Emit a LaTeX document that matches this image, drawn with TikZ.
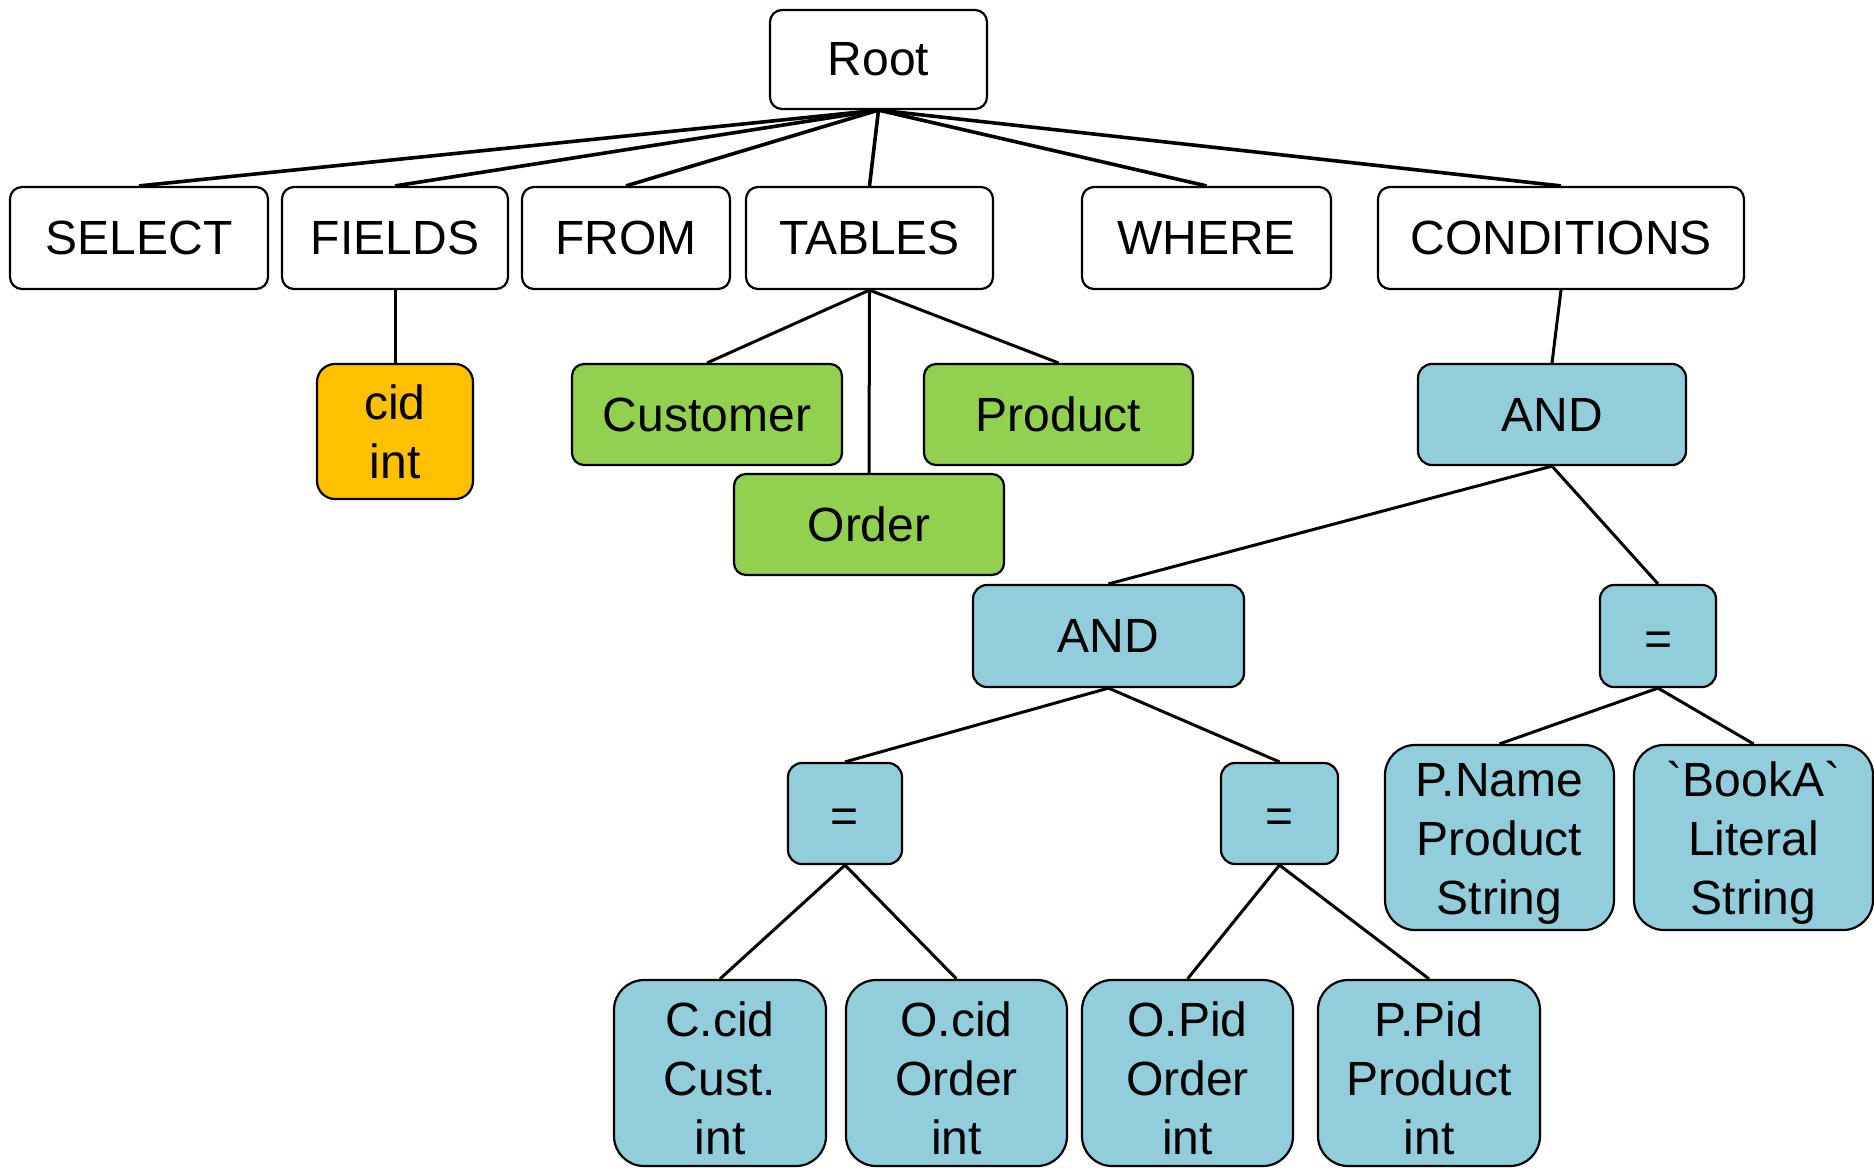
\documentclass[tikz,border=0pt]{standalone}
\usepackage{fontspec}
\newfontfamily\treefont{Liberation Sans}
\definecolor{fieldorange}{RGB}{255,192,0}
\definecolor{tablegreen}{RGB}{146,208,80}
\definecolor{condblue}{RGB}{146,205,220}
% taller first line, so that three-line labels sit a little lower in their boxes
\newcommand\firststrut{\rule{0pt}{22.5pt}}
% equals sign placed just below the middle of its box
\newcommand\eqsign{\raisebox{-9.5pt}[0pt][0pt]{=}}
\begin{document}
\begin{tikzpicture}[x=0.5pt,y=-0.5pt,
  box/.style={draw=black, line width=1.1pt, rounded corners=6pt, align=center,
    inner sep=0pt, font=\treefont\fontsize{24}{29.5}\selectfont},
  kw/.style={box, fill=white},
  fld/.style={box, fill=fieldorange, rounded corners=9pt},
  tbl/.style={box, fill=tablegreen},
  cnd/.style={box, fill=condblue, rounded corners=7pt},
  leaf/.style={box, fill=condblue, rounded corners=15pt},
  sz/.style 2 args={minimum width=#1, minimum height=#2},
  edge/.style={draw=black, line width=1.5pt},
  rootedge/.style={draw=black, line width=1.8pt}]
\useasboundingbox (0,0) rectangle (1874,1168);

% query keywords
\node[kw, sz={108.5pt}{49.5pt}] (root) at (878.5,59.5) {Root};
\node[kw, sz={129pt}{51pt}] (select) at (139,238) {SELECT};
\node[kw, sz={113pt}{51pt}] (fields) at (395,238) {FIELDS};
\node[kw, sz={104pt}{51pt}] (from) at (626,238) {FROM};
\node[kw, sz={123.5pt}{51pt}] (tables) at (869.5,238) {TABLES};
\node[kw, sz={124.5pt}{51pt}] (where) at (1206.5,238) {WHERE};
\node[kw, sz={183pt}{51pt}] (conds) at (1561,238) {CONDITIONS};

% field and tables
\node[fld, sz={78pt}{67.5pt}] (cid) at (395,431.5) {cid\\int};
\node[tbl, sz={135pt}{50.5pt}] (customer) at (707,414.5) {Customer};
\node[tbl, sz={134.5pt}{50.5pt}] (product) at (1058.5,414.5) {Product};
\node[tbl, sz={135pt}{50.5pt}] (order) at (869,524.5) {Order};

% condition tree
\node[cnd, sz={134pt}{50.5pt}] (and1) at (1552,414.5) {AND};
\node[cnd, sz={135.5pt}{51pt}] (and2) at (1108.5,636) {AND};
\node[cnd, sz={58pt}{51pt}] (eq3) at (1658,636) {\eqsign};
\node[cnd, sz={57pt}{50.5pt}] (eq1) at (845,813.5) {\eqsign};
\node[cnd, sz={58.5pt}{50.5pt}] (eq2) at (1279.5,813.5) {\eqsign};
\node[leaf, sz={114.5pt}{92.5pt}] (pname) at (1499.5,837.5) {\firststrut P.Name\\Product\\String};
\node[leaf, sz={119.5pt}{92.5pt}] (booka) at (1753.5,837.5) {\firststrut\char96 BookA\char96\\Literal\\String};
\node[leaf, sz={106pt}{93pt}] (ccid) at (720,1073) {\firststrut C.cid\\Cust.\\int};
\node[leaf, sz={110.5pt}{93pt}] (ocid) at (956.5,1073) {\firststrut O.cid\\Order\\int};
\node[leaf, sz={105.5pt}{93pt}] (opid) at (1187.5,1073) {\firststrut O.Pid\\Order\\int};
\node[leaf, sz={111pt}{93pt}] (ppid) at (1429,1073) {\firststrut P.Pid\\Product\\int};

% connectors
\foreach \c in {select,fields,from,tables,where,conds}
  \draw[rootedge] (root.south) -- (\c.north);
\draw[edge] (fields.south) -- (cid.north);
\foreach \c in {customer,order,product}
  \draw[edge] (tables.south) -- (\c.north);
\draw[edge] (conds.south) -- (and1.north);
\draw[edge] (and1.south) -- (and2.north);
\draw[edge] (and1.south) -- (eq3.north);
\draw[edge] (and2.south) -- (eq1.north);
\draw[edge] (and2.south) -- (eq2.north);
\draw[edge] (eq1.south) -- (ccid.north);
\draw[edge] (eq1.south) -- (ocid.north);
\draw[edge] (eq2.south) -- (opid.north);
\draw[edge] (eq2.south) -- (ppid.north);
\draw[edge] (eq3.south) -- (pname.north);
\draw[edge] (eq3.south) -- (booka.north);
\end{tikzpicture}
\end{document}
